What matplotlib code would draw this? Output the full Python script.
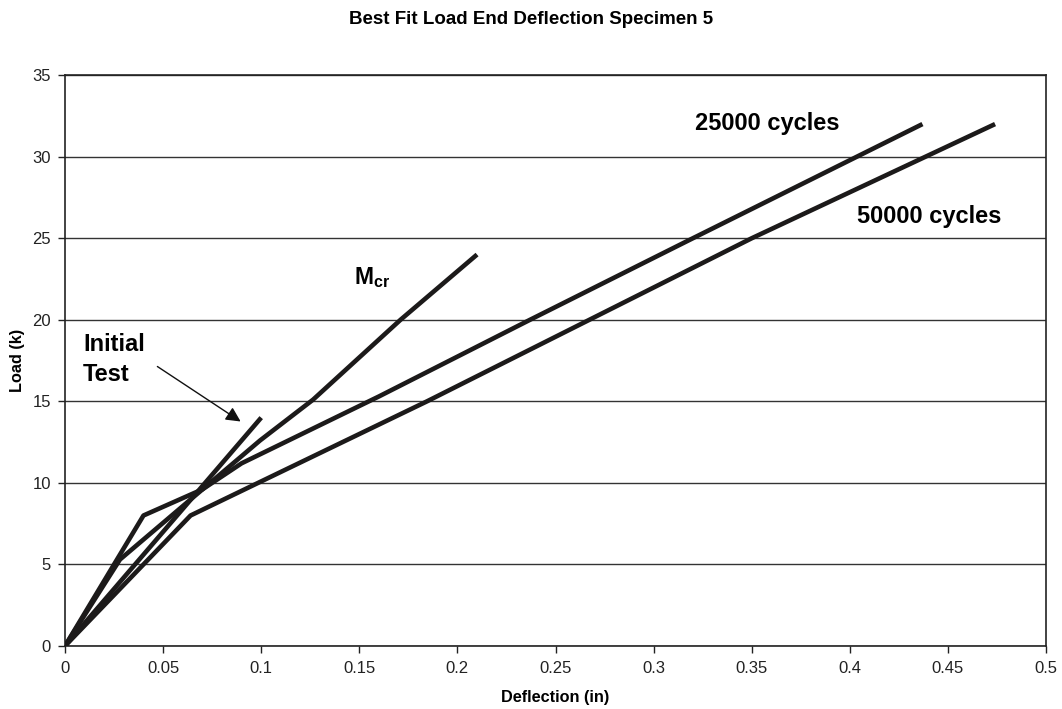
import matplotlib
matplotlib.use("Agg")
from matplotlib import pyplot as plt

plt.rcParams['font.family'] = ['Liberation Sans', 'DejaVu Sans']
plt.rcParams['mathtext.fontset'] = 'custom'
plt.rcParams['mathtext.rm'] = 'Liberation Sans:bold'
plt.rcParams['mathtext.bf'] = 'Liberation Sans:bold'
plt.rcParams['mathtext.it'] = 'Liberation Sans:bold'

# (deflection in, load k)
initial_x = [0, 0.1]
initial_y = [0, 14]

mcr_x = [0, 0.028, 0.0994, 0.1264, 0.171, 0.21]
mcr_y = [0, 5.3, 12.6, 15.1, 20.0, 24.0]

c25000_x = [0, 0.04, 0.07, 0.09, 0.16, 0.237, 0.32, 0.437]
c25000_y = [0, 8.0, 9.6, 11.2, 15.3, 20.0, 25.0, 32.0]

c50000_x = [0, 0.064, 0.1845, 0.35, 0.474]
c50000_y = [0, 8.0, 15.0, 25.0, 32.0]

x_ticks = [0, 0.05, 0.1, 0.15, 0.2, 0.25, 0.3, 0.35, 0.4, 0.45, 0.5]
x_labels = ['0', '0.05', '0.1', '0.15', '0.2', '0.25', '0.3', '0.35', '0.4', '0.45', '0.5']
y_ticks = [0, 5, 10, 15, 20, 25, 30, 35]

fig = plt.figure(figsize=(10.62, 7.09), dpi=100)
ax = fig.add_axes([0.0612, 0.0889, 0.9238, 0.8051])

line_col = '#1c1a1a'
for xs, ys in [(c50000_x, c50000_y), (c25000_x, c25000_y), (mcr_x, mcr_y), (initial_x, initial_y)]:
    ax.plot(xs, ys, color=line_col, lw=3.3, solid_capstyle='butt', zorder=3)

ax.set_xlim(0, 0.5)
ax.set_ylim(0, 35)
ax.set_xticks(x_ticks)
ax.set_xticklabels(x_labels)
ax.set_yticks(y_ticks)
ax.grid(axis='y', color='#333333', lw=1.0)
ax.set_axisbelow(True)
for s in ax.spines.values():
    s.set_color('#222222')
    s.set_linewidth(1.2)
ax.tick_params(direction='out', length=5, width=1, labelsize=12, colors='#222222')
ax.tick_params(axis='x', pad=6)
ax.tick_params(axis='y', pad=5)

ax.set_xlabel('Deflection (in)', fontsize=11.7, fontweight='bold')
ax.set_ylabel('Load (k)', fontsize=11.7, fontweight='bold')
ax.xaxis.set_label_coords(0.5, -0.0895)
ax.xaxis.label.set_va('center')
ax.yaxis.set_label_coords(-0.0489, 0.5)
ax.yaxis.label.set_va('center')
fig.text(0.5, 1 - 24.5 / 709, 'Best Fit Load End Deflection Specimen 5',
         ha='center', va='baseline', fontsize=13.5, fontweight='bold')

ax.text(0.0092, 18.07, 'Initial', fontsize=17, fontweight='bold', va='baseline', ha='left')
ax.text(0.0092, 16.25, 'Test', fontsize=17, fontweight='bold', va='baseline', ha='left')
ax.annotate('', xy=(0.0907, 13.67), xytext=(0.0459, 17.23),
            arrowprops=dict(arrowstyle='-|>', color='#111111', lw=1, mutation_scale=22))
ax.text(0.1473, 22.2, r'$\mathbf{M_{cr}}$', fontsize=16.5, va='baseline', ha='left')
ax.text(0.321, 31.64, '25000 cycles', fontsize=17, fontweight='bold', va='baseline', ha='left')
ax.text(0.4037, 25.92, '50000 cycles', fontsize=17, fontweight='bold', va='baseline', ha='left')

fig.savefig('out.png', dpi=100)
